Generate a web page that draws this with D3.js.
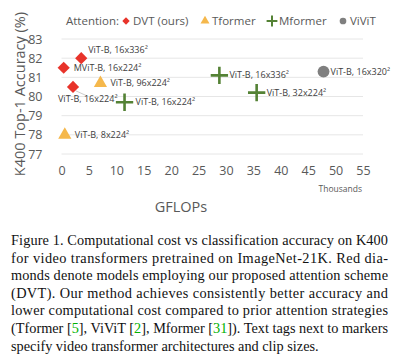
<!DOCTYPE html>
<html>
<head>
<meta charset="utf-8">
<script src="https://cdn.jsdelivr.net/npm/d3@7"></script>
<style>
  body { margin: 0; background: #fff; }
  svg { display: block; }
</style>
</head>
<body>
<svg id="chart" width="400" height="359"></svg>
<script>
// data (GFLOPs in thousands, accuracy in %)
const seriesNames = ["DVT (ours)", "Tformer", "Mformer", "ViViT"];
const dvtGflops = [3.6, 0.4, 2.1];
const dvtAcc = [82.0, 81.5, 80.5];
const dvtTags = ["ViT-B, 16x336²", "MViT-B, 16x224²", "ViT-B, 16x224²"];
const tformerGflops = [7.1, 0.6];
const tformerAcc = [80.7, 78.0];
const tformerTags = ["ViT-B, 96x224²", "ViT-B, 8x224²"];
const mformerGflops = [11.5, 28.8, 35.6];
const mformerAcc = [79.7, 81.1, 80.2];
const mformerTags = ["ViT-B, 16x224²", "ViT-B, 16x336²", "ViT-B, 32x224²"];
const vivitGflops = [47.8];
const vivitAcc = [81.3];
const vivitTags = ["ViT-B, 16x320²"];
const xTicks = [0, 5, 10, 15, 20, 25, 30, 35, 40, 45, 50, 55];
const yTicks = [77, 78, 79, 80, 81, 82, 83];

const colors = { "DVT (ours)": "#e8332a", "Tformer": "#f5b84c", "Mformer": "#548235", "ViViT": "#7f7f7f" };
const shapes = { "DVT (ours)": d3.symbolDiamond2, "Tformer": d3.symbolTriangle, "Mformer": d3.symbolPlus, "ViViT": d3.symbolCircle };

const svg = d3.select("#chart");
const axisColor = "#595959";
const font = "Open Sans, Liberation Sans, sans-serif";

const x = d3.scaleLinear().domain([0, 55]).range([61.5, 363]);
const y = d3.scaleLinear().domain([77, 83]).range([154, 39]);

// gridlines
svg.append("g").selectAll("line").data(yTicks).join("line")
  .attr("x1", x(0)).attr("x2", x(55))
  .attr("y1", d => y(d)).attr("y2", d => y(d))
  .attr("stroke", "#e6e6e6").attr("stroke-width", 1);

// axes (tick labels only)
const yAxis = svg.append("g").attr("transform", `translate(${x(0)},0)`)
  .call(d3.axisLeft(y).tickValues(yTicks).tickFormat(d3.format("d")).tickSize(0).tickPadding(19));
yAxis.select(".domain").remove();
yAxis.selectAll("text").attr("fill", axisColor).attr("font-size", 12.5).attr("font-family", font);

const xAxis = svg.append("g").attr("transform", `translate(0,${y(77)})`)
  .call(d3.axisBottom(x).tickValues(xTicks).tickFormat(d3.format("d")).tickSize(0).tickPadding(12));
xAxis.select(".domain").remove();
xAxis.selectAll("text").attr("fill", axisColor).attr("font-size", 12.5).attr("font-family", font);

svg.append("text").attr("x", 362).attr("y", 192).attr("text-anchor", "end")
  .attr("font-size", 8.5).attr("font-family", font).attr("fill", axisColor).text("Thousands");

svg.append("text").attr("x", 181).attr("y", 212).attr("text-anchor", "middle")
  .attr("font-size", 14.5).attr("font-family", font).attr("fill", axisColor).text("GFLOPs");

svg.append("text").attr("transform", "translate(25,94) rotate(-90)").attr("text-anchor", "middle")
  .attr("font-size", 14.5).attr("font-family", font).attr("fill", axisColor)
  .text("K400 Top-1 Accuracy (%)");

// points
const points = [];
const add = (name, xs, ys, tags) => xs.forEach((v, i) => points.push({ name, g: v, acc: ys[i], tag: tags[i] }));
add("DVT (ours)", dvtGflops, dvtAcc, dvtTags);
add("Tformer", tformerGflops, tformerAcc, tformerTags);
add("Mformer", mformerGflops, mformerAcc, mformerTags);
add("ViViT", vivitGflops, vivitAcc, vivitTags);

const symSize = { "DVT (ours)": 95, "Tformer": 75, "Mformer": 100, "ViViT": 110 };

// leader line for the lower DVT tag
svg.append("line")
  .attr("x1", x(dvtGflops[2]) + 3).attr("y1", y(dvtAcc[2]) + 4)
  .attr("x2", x(dvtGflops[2]) + 14).attr("y2", y(dvtAcc[2]) + 9)
  .attr("stroke", "#bfbfbf").attr("stroke-width", 0.8);

svg.append("g").selectAll("path").data(points).join("path")
  .attr("transform", d => `translate(${x(d.g)},${y(d.acc)})`)
  .attr("d", d => d3.symbol().type(shapes[d.name]).size(symSize[d.name])())
  .attr("fill", d => d.name === "Mformer" ? "none" : colors[d.name])
  .attr("stroke", d => d.name === "Mformer" ? colors[d.name] : "none")
  .attr("stroke-width", 2.6);

// tag offsets relative to marker
const tagOffsets = [[7, -5], [10, 3], [-15, 15], [10, 3], [10, 3], [11, 3], [10, 3], [10, 3], [7, 3]];
svg.append("g").selectAll("text").data(points).join("text")
  .attr("x", (d, i) => x(d.g) + tagOffsets[i][0])
  .attr("y", (d, i) => y(d.acc) + tagOffsets[i][1])
  .attr("font-size", 9).attr("font-family", font).attr("fill", "#404040")
  .text(d => d.tag);

// legend
const legend = svg.append("g");
legend.append("text").attr("x", 66).attr("y", 25).attr("font-size", 11.5).attr("font-family", font)
  .attr("fill", axisColor).text("Attention:");
const legX = [126, 205, 272, 343];
seriesNames.forEach((n, i) => {
  legend.append("path").attr("transform", `translate(${legX[i]},21)`)
    .attr("d", d3.symbol().type(shapes[n]).size(n === "Mformer" ? 40 : 35)())
    .attr("fill", n === "Mformer" ? "none" : colors[n])
    .attr("stroke", n === "Mformer" ? colors[n] : "none").attr("stroke-width", 2);
  legend.append("text").attr("x", legX[i] + 7).attr("y", 25).attr("font-size", 11.5)
    .attr("font-family", font).attr("fill", axisColor).text(n);
});

// caption
const captionLines = [
  ["Figure 1. Computational cost vs classification accuracy on K400"],
  ["for video transformers pretrained on ImageNet-21K. Red dia-"],
  ["monds denote models employing our proposed attention scheme"],
  ["(DVT). Our method achieves consistently better accuracy and"],
  ["lower computational cost compared to prior attention strategies"],
  ["(Tformer [", { g: "5" }, "], ViViT [", { g: "2" }, "], Mformer [", { g: "31" }, "]). Text tags next to markers"],
  ["specify video transformer architectures and clip sizes."]
];
const cap = svg.append("g");
captionLines.forEach((parts, i) => {
  const t = cap.append("text").attr("x", 11).attr("y", 245 + i * 17.6)
    .attr("font-size", 14.3).attr("font-family", "Liberation Serif, Times New Roman, serif").attr("fill", "#111");
  if (i < captionLines.length - 1) t.attr("textLength", 377).attr("lengthAdjust", "spacing");
  parts.forEach(p => {
    if (typeof p === "string") t.append("tspan").text(p);
    else t.append("tspan").attr("fill", "#00b200").text(p.g);
  });
});
</script>
</body>
</html>
